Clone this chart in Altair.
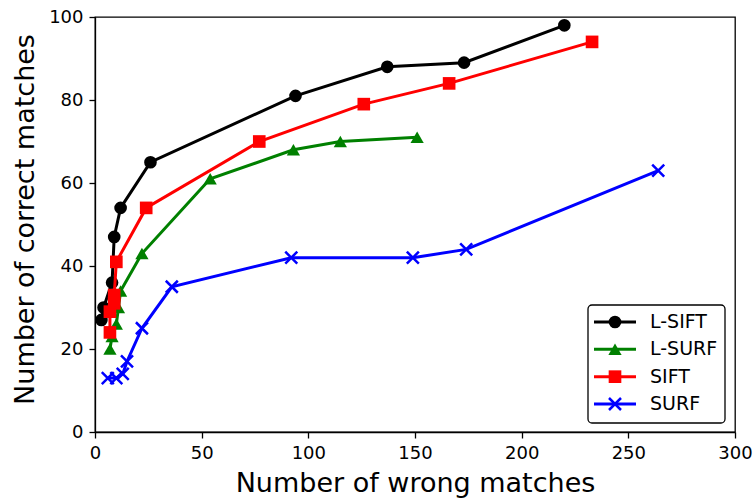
import altair as alt
import pandas as pd

series_names = ["L-SIFT", "L-SURF", "SIFT", "SURF"]
series_colors = ["#000000", "#008000", "#ff0000", "#0000ff"]

lsift_x = [3, 4, 8, 9, 12, 26, 94, 137, 173, 220]
lsift_y = [27, 30, 36, 47, 54, 65, 81, 88, 89, 98]
lsurf_x = [7, 8, 10, 11, 12, 22, 54, 93, 115, 151]
lsurf_y = [20, 23, 26, 30, 34, 43, 61, 68, 70, 71]
sift_x = [7, 7, 9, 9, 10, 24, 77, 126, 166, 233]
sift_y = [24, 29, 31, 33, 41, 54, 70, 79, 84, 94]
surf_x = [6, 10, 13, 15, 22, 36, 92, 149, 174, 264]
surf_y = [13, 13, 14, 17, 25, 35, 42, 42, 44, 63]

x_ticks = [0, 50, 100, 150, 200, 250, 300]
y_ticks = [0, 20, 40, 60, 80, 100]

rows = []
for name, xs, ys in zip(series_names, [lsift_x, lsurf_x, sift_x, surf_x],
                        [lsift_y, lsurf_y, sift_y, surf_y]):
    for i, (xv, yv) in enumerate(zip(xs, ys)):
        rows.append({"series": name, "wrong": xv, "correct": yv, "order": i})
df = pd.DataFrame(rows)
legend_df = pd.DataFrame({"series": series_names})
box_df = pd.DataFrame({"box": [1]})

FONT = "DejaVu Sans"

color_scale = alt.Scale(domain=series_names, range=series_colors)

x_enc = alt.X("wrong:Q", scale=alt.Scale(domain=[0, 300], nice=False, zero=False),
              axis=alt.Axis(title="Number of wrong matches", values=x_ticks,
                            labelFlush=False, labelOverlap=False,
                            titleY=59, titleBaseline="alphabetic"))
y_enc = alt.Y("correct:Q", scale=alt.Scale(domain=[0, 100], nice=False, zero=False),
              axis=alt.Axis(title="Number of correct matches", values=y_ticks,
                            labelOverlap=False, titleX=-62, titleY=202,
                            titleBaseline="alphabetic"))

X_PATH = "M-1,-1L1,1M-1,1L1,-1"
marker_props = {
    "L-SIFT": dict(shape="circle", filled=True, size=160),
    "L-SURF": dict(shape="triangle-up", filled=True, size=175),
    "SIFT": dict(shape="square", filled=True, size=160),
    "SURF": dict(shape=X_PATH, filled=False, size=144, strokeWidth=2.5),
}

data_layers = []
for name in series_names:
    base = alt.Chart(df).transform_filter(alt.datum.series == name)
    line = base.mark_line(strokeWidth=3).encode(
        x=x_enc, y=y_enc, order="order:Q",
        color=alt.Color("series:N", scale=color_scale, legend=None))
    pts = base.mark_point(opacity=1, **marker_props[name]).encode(
        x=x_enc, y=y_enc,
        color=alt.Color("series:N", scale=color_scale, legend=None))
    data_layers += [line, pts]
data_chart = alt.layer(*data_layers)

# Manual legend (pixel layout inside the plot area)
leg_y = alt.Y("series:N", scale=alt.Scale(type="point", domain=series_names,
                                          range=[305, 387], padding=0), axis=None)
leg_color = alt.Color("series:N", scale=color_scale, legend=None)

box = alt.Chart(box_df).mark_rect(
    fill="#ffffff", stroke="#000000", strokeWidth=1.3, cornerRadius=4
).encode(x=alt.value(493), x2=alt.value(630), y=alt.value(288), y2=alt.value(406))

leg_lines = alt.Chart(legend_df).mark_rule(strokeWidth=3).encode(
    x=alt.value(499), x2=alt.value(541), y=leg_y, color=leg_color)

leg_marks = []
for name in series_names:
    leg_marks.append(
        alt.Chart(legend_df).transform_filter(alt.datum.series == name)
        .mark_point(opacity=1, **marker_props[name])
        .encode(x=alt.value(520), y=leg_y, color=leg_color))

leg_text = alt.Chart(legend_df).mark_text(
    align="left", baseline="middle", font=FONT, fontSize=19, color="#000000"
).encode(x=alt.value(555), y=leg_y, text="series:N")

legend_chart = alt.layer(box, leg_lines, *leg_marks, leg_text)

chart = alt.layer(data_chart, legend_chart).resolve_scale(
    y="independent"
).properties(
    width=640, height=415,
    autosize=alt.AutoSizeParams(type="none"),
    padding={"left": 95, "top": 17, "right": 18, "bottom": 67},
    background="white",
).configure_view(
    stroke="#000000", strokeWidth=1.3
).configure_axis(
    grid=False, domainColor="#000000", domainWidth=1.3, tickColor="#000000",
    tickWidth=1.3, tickSize=6, labelFont=FONT, labelFontSize=18, labelColor="#000000",
    labelPadding=6, titleFont=FONT, titleFontSize=27, titleFontWeight="normal",
    titleColor="#000000",
)

chart.save("out.html", embed_options={"renderer": "svg", "actions": False})
